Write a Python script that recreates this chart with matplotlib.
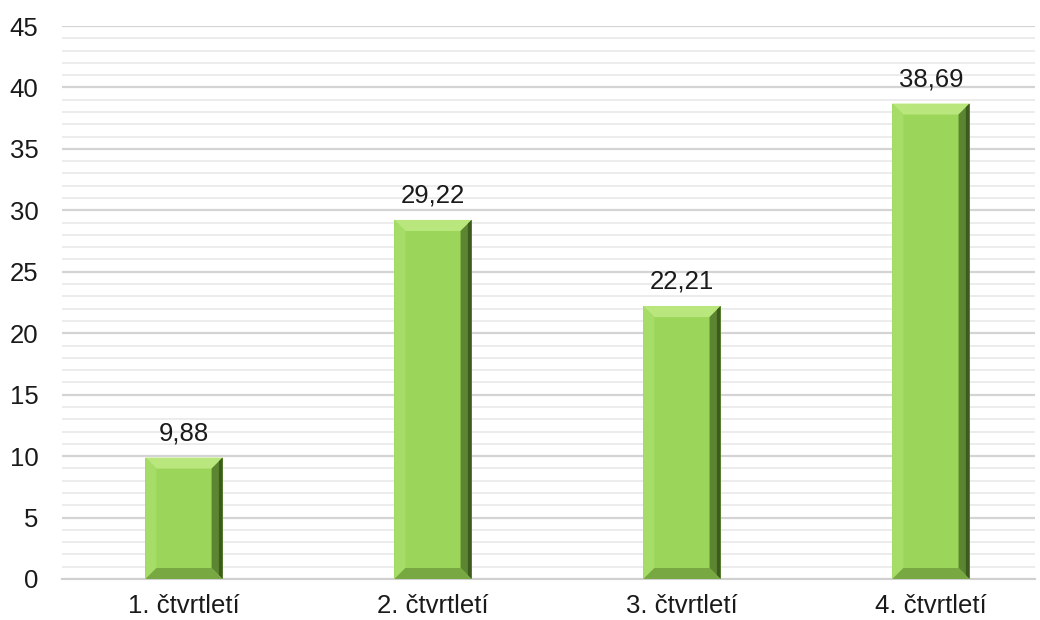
import matplotlib.pyplot as plt
from matplotlib.patches import Polygon
from matplotlib.ticker import MultipleLocator

categories = ['1. čtvrtletí', '2. čtvrtletí', '3. čtvrtletí', '4. čtvrtletí']
values = [9.88, 29.22, 22.21, 38.69]
labels = ['9,88', '29,22', '22,21', '38,69']

plt.rcParams['font.family'] = ['Liberation Sans', 'DejaVu Sans']

fig = plt.figure(figsize=(10.4, 6.2), dpi=100)
ax = fig.add_axes([62 / 1040, 1 - 579 / 620, (1035 - 62) / 1040, (579 - 26) / 620])

ax.set_xlim(-0.49, 3.418)
ax.set_ylim(0, 45)
ax.yaxis.set_major_locator(MultipleLocator(5))
ax.yaxis.set_minor_locator(MultipleLocator(1))
ax.grid(axis='y', which='major', color='#d4d4d4', linewidth=1.6, zorder=0)
ax.grid(axis='y', which='minor', color='#ebebeb', linewidth=1.3, zorder=0)
ax.set_axisbelow(True)
for s in ['top', 'right', 'left']:
    ax.spines[s].set_visible(False)
ax.spines['bottom'].set_color('#d0d0d0')
ax.spines['bottom'].set_linewidth(1.5)
ax.tick_params(axis='both', which='both', length=0, labelsize=18.5, colors='#1a1a1a')
ax.tick_params(axis='y', pad=17)
ax.tick_params(axis='x', pad=11)
ax.set_xticks(range(len(categories)))
ax.set_xticklabels(categories)

width = 0.31
bars = ax.bar(range(len(values)), values, width=width, color='#9bd65a', zorder=2)

# bevel effect
fig.canvas.draw()
inv = ax.transData.inverted()
p0 = inv.transform((0, 0))
p1 = inv.transform((11, 11))
bx, by = p1[0] - p0[0], p1[1] - p0[1]
for i, v in enumerate(values):
    x0, x1 = i - width / 2, i + width / 2
    # top
    ax.add_patch(Polygon([(x0, v), (x1, v), (x1 - bx, v - by), (x0 + bx, v - by)],
                         closed=True, color='#b9e77d', lw=0, zorder=3))
    # left
    ax.add_patch(Polygon([(x0, v), (x0 + bx, v - by), (x0 + bx, by), (x0, 0)],
                         closed=True, color='#a6dd68', lw=0, zorder=3))
    # right
    ax.add_patch(Polygon([(x1, v), (x1 - bx, v - by), (x1 - bx, by), (x1, 0)],
                         closed=True, color='#5b8530', lw=0, zorder=3))
    ax.add_patch(Polygon([(x1, v), (x1 - bx / 3, v - by / 3), (x1 - bx / 3, by / 3), (x1, 0)],
                         closed=True, color='#3d5a1f', lw=0, zorder=3))
    # bottom
    ax.add_patch(Polygon([(x0, 0), (x1, 0), (x1 - bx, by), (x0 + bx, by)],
                         closed=True, color='#78a842', lw=0, zorder=3))
    ax.text(i, v + 1.0, labels[i], ha='center', va='bottom', fontsize=18.5, color='#1a1a1a')

fig.savefig('out.png', dpi=100)
